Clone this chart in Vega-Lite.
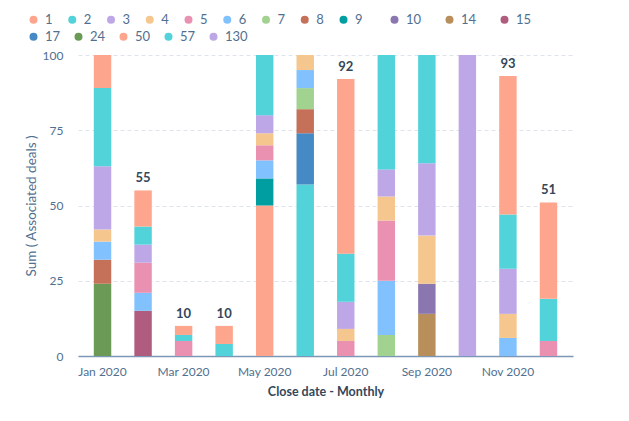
{
  "$schema": "https://vega.github.io/schema/vega-lite/v6.json",
  "autosize": "none",
  "width": 495,
  "height": 301,
  "padding": {"left": 78, "top": 55, "right": 56, "bottom": 65},
  "background": "white",
  "config": {"font": "Lato", "view": {"stroke": null},
    "legend": {"orient": "none", "direction": "horizontal", "title": null, "symbolType": "circle", "symbolSize": 64, "symbolStrokeWidth": 0, "symbolOpacity": 1, "labelFontSize": 13, "labelColor": "#516f90", "labelOffset": 5, "rowPadding": 4}
  },
  "data": {
    "values": [
      {"m": "Jan 2020", "k": 24, "v": 24},
      {"m": "Jan 2020", "k": 8, "v": 8},
      {"m": "Jan 2020", "k": 6, "v": 6},
      {"m": "Jan 2020", "k": 4, "v": 4},
      {"m": "Jan 2020", "k": 3, "v": 21},
      {"m": "Jan 2020", "k": 2, "v": 26},
      {"m": "Jan 2020", "k": 1, "v": 20},
      {"m": "Feb 2020", "k": 15, "v": 15},
      {"m": "Feb 2020", "k": 6, "v": 6},
      {"m": "Feb 2020", "k": 5, "v": 10},
      {"m": "Feb 2020", "k": 3, "v": 6},
      {"m": "Feb 2020", "k": 2, "v": 6},
      {"m": "Feb 2020", "k": 1, "v": 12},
      {"m": "Mar 2020", "k": 5, "v": 5},
      {"m": "Mar 2020", "k": 2, "v": 2},
      {"m": "Mar 2020", "k": 1, "v": 3},
      {"m": "Apr 2020", "k": 2, "v": 4},
      {"m": "Apr 2020", "k": 1, "v": 6},
      {"m": "May 2020", "k": 50, "v": 50},
      {"m": "May 2020", "k": 9, "v": 9},
      {"m": "May 2020", "k": 6, "v": 6},
      {"m": "May 2020", "k": 5, "v": 5},
      {"m": "May 2020", "k": 4, "v": 4},
      {"m": "May 2020", "k": 3, "v": 6},
      {"m": "May 2020", "k": 2, "v": 24},
      {"m": "Jun 2020", "k": 57, "v": 57},
      {"m": "Jun 2020", "k": 17, "v": 17},
      {"m": "Jun 2020", "k": 8, "v": 8},
      {"m": "Jun 2020", "k": 7, "v": 7},
      {"m": "Jun 2020", "k": 6, "v": 6},
      {"m": "Jun 2020", "k": 4, "v": 8},
      {"m": "Jul 2020", "k": 5, "v": 5},
      {"m": "Jul 2020", "k": 4, "v": 4},
      {"m": "Jul 2020", "k": 3, "v": 9},
      {"m": "Jul 2020", "k": 2, "v": 16},
      {"m": "Jul 2020", "k": 1, "v": 58},
      {"m": "Aug 2020", "k": 7, "v": 7},
      {"m": "Aug 2020", "k": 6, "v": 18},
      {"m": "Aug 2020", "k": 5, "v": 20},
      {"m": "Aug 2020", "k": 4, "v": 8},
      {"m": "Aug 2020", "k": 3, "v": 9},
      {"m": "Aug 2020", "k": 2, "v": 40},
      {"m": "Sep 2020", "k": 14, "v": 14},
      {"m": "Sep 2020", "k": 10, "v": 10},
      {"m": "Sep 2020", "k": 4, "v": 16},
      {"m": "Sep 2020", "k": 3, "v": 24},
      {"m": "Sep 2020", "k": 2, "v": 38},
      {"m": "Oct 2020", "k": 130, "v": 130},
      {"m": "Nov 2020", "k": 6, "v": 6},
      {"m": "Nov 2020", "k": 4, "v": 8},
      {"m": "Nov 2020", "k": 3, "v": 15},
      {"m": "Nov 2020", "k": 2, "v": 18},
      {"m": "Nov 2020", "k": 1, "v": 46},
      {"m": "Dec 2020", "k": 5, "v": 5},
      {"m": "Dec 2020", "k": 2, "v": 14},
      {"m": "Dec 2020", "k": 1, "v": 32}
    ]
  },
  "layer": [
    {
      "mark": {"type": "bar", "clip": true},
      "encoding": {
        "x": {
          "field": "m", "type": "nominal",
          "sort": ["Jan 2020","Feb 2020","Mar 2020","Apr 2020","May 2020","Jun 2020","Jul 2020","Aug 2020","Sep 2020","Oct 2020","Nov 2020","Dec 2020"],
          "scale": {"paddingInner": 0.57, "paddingOuter": 0.39},
          "axis": {
            "values": ["Jan 2020","Mar 2020","May 2020","Jul 2020","Sep 2020","Nov 2020"],
            "labelAngle": 0, "ticks": false, "grid": false,
            "domainColor": "#7c98b6", "domainWidth": 1.5,
            "labelColor": "#516f90", "labelFontSize": 12, "labelPadding": 10,
            "title": "Close date - Monthly", "titleFontSize": 12.5, "titleFontWeight": "bold",
            "titleColor": "#33475b", "titlePadding": 8
          }
        },
        "y": {
          "field": "v", "type": "quantitative", "stack": "zero",
          "scale": {"domain": [0, 100], "nice": false},
          "axis": {
            "values": [0, 25, 50, 75, 100],
            "domain": false, "ticks": false,
            "gridDash": [4, 3], "gridColor": "#dfe3eb",
            "labelColor": "#516f90", "labelFontSize": 12, "labelPadding": 15,
            "title": "Sum ( Associated deals )", "titleFontSize": 13.5, "titleFontWeight": "normal",
            "titleColor": "#516f90", "titlePadding": 4
          }
        },
        "color": {
          "field": "k", "type": "ordinal",
          "scale": {
            "domain": [1, 2, 3, 4, 5, 6, 7, 8, 9, 10, 14, 15, 17, 24, 50, 57, 130],
            "range": ["#fea58e", "#51d3d9", "#bda7e7", "#f5c78e", "#ea90b1", "#81c1fd", "#a2d28f", "#c5715a", "#009ea0", "#8a77b0", "#b88f5a", "#b05c7f", "#4589c5", "#6a9a56", "#fea58e", "#51d3d9", "#bda7e7"]
          },
          "legend": {"values": [1, 2, 3, 4, 5, 6, 7, 8, 9], "legendX": -51, "legendY": -42, "columns": 9, "columnPadding": 12.75}
        },
        "order": {"field": "k", "type": "quantitative", "sort": "descending"}
      }
    },
    {
      "mark": {"type": "bar", "clip": true, "opacity": 0},
      "encoding": {
        "x": {"field": "m", "type": "nominal", "sort": ["Jan 2020","Feb 2020","Mar 2020","Apr 2020","May 2020","Jun 2020","Jul 2020","Aug 2020","Sep 2020","Oct 2020","Nov 2020","Dec 2020"]},
        "y": {"field": "v", "type": "quantitative", "stack": "zero"},
        "color": {
          "field": "k", "type": "ordinal",
          "scale": {
            "domain": [1, 2, 3, 4, 5, 6, 7, 8, 9, 10, 14, 15, 17, 24, 50, 57, 130],
            "range": ["#fea58e", "#51d3d9", "#bda7e7", "#f5c78e", "#ea90b1", "#81c1fd", "#a2d28f", "#c5715a", "#009ea0", "#8a77b0", "#b88f5a", "#b05c7f", "#4589c5", "#6a9a56", "#fea58e", "#51d3d9", "#bda7e7"]
          },
          "legend": {"values": [10, 14, 15], "legendX": 310, "legendY": -42, "columns": 3, "columnPadding": 21}
        },
        "order": {"field": "k", "type": "quantitative", "sort": "descending"}
      }
    },
    {
      "mark": {"type": "bar", "clip": true, "opacity": 0},
      "encoding": {
        "x": {"field": "m", "type": "nominal", "sort": ["Jan 2020","Feb 2020","Mar 2020","Apr 2020","May 2020","Jun 2020","Jul 2020","Aug 2020","Sep 2020","Oct 2020","Nov 2020","Dec 2020"]},
        "y": {"field": "v", "type": "quantitative", "stack": "zero"},
        "color": {
          "field": "k", "type": "ordinal",
          "scale": {
            "domain": [1, 2, 3, 4, 5, 6, 7, 8, 9, 10, 14, 15, 17, 24, 50, 57, 130],
            "range": ["#fea58e", "#51d3d9", "#bda7e7", "#f5c78e", "#ea90b1", "#81c1fd", "#a2d28f", "#c5715a", "#009ea0", "#8a77b0", "#b88f5a", "#b05c7f", "#4589c5", "#6a9a56", "#fea58e", "#51d3d9", "#bda7e7"]
          },
          "legend": {"values": [17, 24, 50, 57, 130], "legendX": -51, "legendY": -25, "columns": 5, "columnPadding": 11}
        },
        "order": {"field": "k", "type": "quantitative", "sort": "descending"}
      }
    },
    {
      "transform": [
        {"aggregate": [{"op": "sum", "field": "v", "as": "t"}], "groupby": ["m"]},
        {"filter": "datum.t <= 100"}
      ],
      "mark": {"type": "text", "fontWeight": "bold", "fontSize": 13, "color": "#33475b", "dy": -12},
      "encoding": {
        "x": {"field": "m", "type": "nominal", "sort": ["Jan 2020","Feb 2020","Mar 2020","Apr 2020","May 2020","Jun 2020","Jul 2020","Aug 2020","Sep 2020","Oct 2020","Nov 2020","Dec 2020"]},
        "y": {"field": "t", "type": "quantitative"},
        "text": {"field": "t", "type": "quantitative"}
      }
    }
  ],
  "resolve": {"scale": {"color": "independent"}}
}
